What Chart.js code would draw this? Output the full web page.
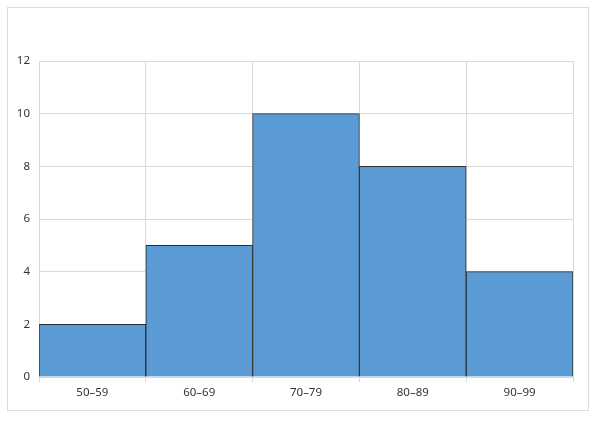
<!DOCTYPE html>
<html>
<head>
<meta charset="utf-8">
<script src="https://cdn.jsdelivr.net/npm/chart.js@4"></script>
<style>
    html, body { margin: 0; padding: 0; background: #fff; }
    #wrap { position: relative; width: 600px; height: 427px; }
</style>
</head>
<body>
<div id="wrap"><canvas id="chart" width="600" height="427"></canvas></div>
<script>
    const categories = ['50–59', '60–69', '70–79', '80–89', '90–99']
    const counts = [2, 5, 10, 8, 4]
    const yTicks = { min: 0, max: 12, step: 2 }

    const GRID = '#d9d9d9'
    const TEXT = '#333333'

    // light frame around the whole chart, like the spreadsheet chart area
    const framePlugin = {
        id: 'frame',
        beforeDraw(chart) {
            const ctx = chart.ctx
            ctx.save()
            ctx.fillStyle = '#fff'
            ctx.fillRect(0, 0, chart.width, chart.height)
            ctx.strokeStyle = '#dcdcdc'
            ctx.lineWidth = 1
            ctx.strokeRect(7.5, 7.5, 581, 403)
            ctx.restore()
        }
    }

    new Chart(document.getElementById('chart'), {
        type: 'bar',
        data: {
            labels: categories,
            datasets: [{
                data: counts,
                backgroundColor: '#5b9bd5',
                borderColor: '#2f2f2f',
                borderWidth: 1,
                categoryPercentage: 1,
                barPercentage: 1
            }]
        },
        options: {
            responsive: false,
            animation: false,
            layout: { padding: { top: 61, right: 27, left: 0, bottom: 0 } },
            plugins: {
                legend: { display: false },
                tooltip: { enabled: false }
            },
            scales: {
                x: {
                    grid: { color: GRID, tickLength: 5, offset: true },
                    border: { color: GRID },
                    ticks: { color: TEXT, padding: 4, font: { family: 'Noto Sans', size: 11.5 } },
                    afterFit: (s) => { s.height = 50 }
                },
                y: {
                    min: yTicks.min,
                    max: yTicks.max,
                    grid: { color: GRID, drawTicks: false },
                    border: { color: GRID },
                    ticks: { stepSize: yTicks.step, color: TEXT, padding: 9, font: { family: 'Noto Sans', size: 11.5 } },
                    afterFit: (s) => { s.width = 39 }
                }
            }
        },
        plugins: [framePlugin]
    })
</script>
</body>
</html>
